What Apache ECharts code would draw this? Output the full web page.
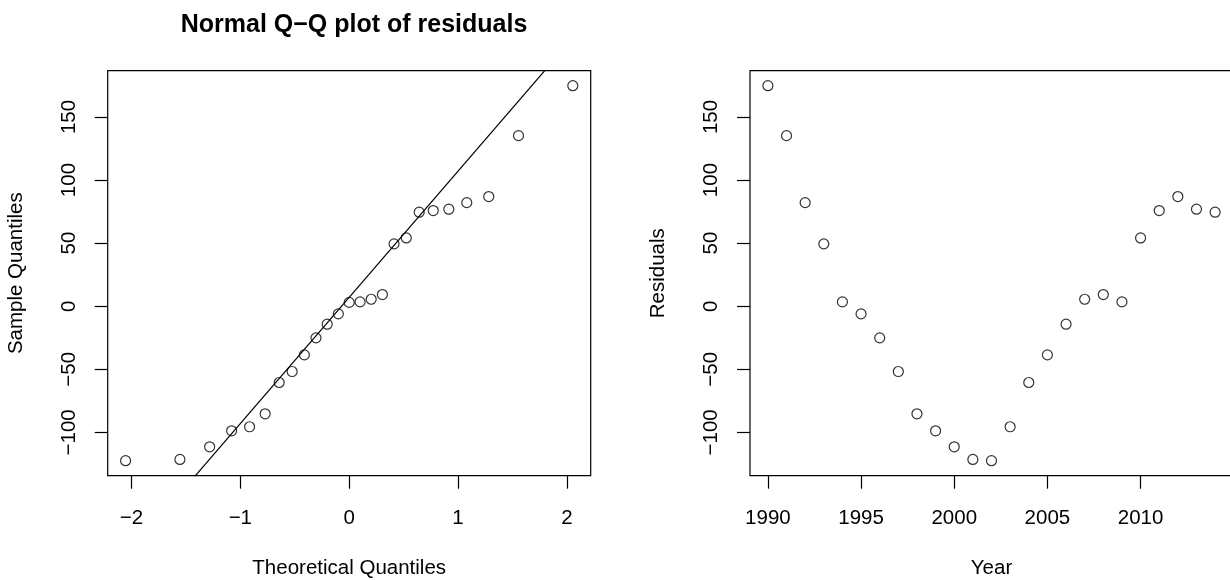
<!DOCTYPE html>
<html>
<head>
<meta charset="utf-8">
<script src="https://cdn.jsdelivr.net/npm/echarts@6/dist/echarts.min.js"></script>
<style>
  html, body { margin: 0; padding: 0; background: #fff; }
  #chart { width: 1230px; height: 580px; }
</style>
</head>
<body>
<div id="chart"></div>
<script>
// data
const years = [1990, 1991, 1992, 1993, 1994, 1995, 1996, 1997, 1998, 1999, 2000, 2001, 2002,
  2003, 2004, 2005, 2006, 2007, 2008, 2009, 2010, 2011, 2012, 2013, 2014]
const residuals = [174.8, 135.2, 82.1, 49.4, 3.4, -6.1, -25.1, -51.8, -85.3, -98.8, -111.5, -121.5, -122.5,
  -95.6, -60.5, -38.6, -14.3, 5.5, 9.2, 3.4, 54.1, 75.8, 86.9, 76.9, 74.5]
// normal quantiles for n = 25 and the sorted residuals
const theoQuantiles = [-2.054, -1.555, -1.282, -1.080, -0.915, -0.772, -0.643, -0.524, -0.412, -0.305, -0.202, -0.100, 0,
  0.100, 0.202, 0.305, 0.412, 0.524, 0.643, 0.772, 0.915, 1.080, 1.282, 1.555, 2.054]
const sampleQuantiles = [-122.5, -121.5, -111.5, -98.8, -95.6, -85.3, -60.5, -51.8, -38.6, -25.1, -14.3, -6.1, 3.0,
  3.4, 5.5, 9.2, 49.4, 54.1, 74.5, 75.8, 76.9, 82.1, 86.9, 135.2, 174.8]
// reference line (through the quartiles)
const qqIntercept = 7.0
const qqSlope = 100.07

const qqTicksX = [-2, -1, 0, 1, 2]
const yearTicks = [1990, 1995, 2000, 2005, 2010]
const residTicks = [-100, -50, 0, 50, 100, 150]

// R style axis range: data range plus 4% each side
function rRange(arr) {
  const mn = Math.min(...arr), mx = Math.max(...arr)
  const pad = (mx - mn) * 0.04
  return [mn - pad, mx + pad]
}

const font = 'Liberation Sans, Arial, sans-serif'
const fs = 20.5
const minus = v => String(v).replace('-', '\u2212')

const qx = rRange(theoQuantiles)
const yx = rRange(years)
const ry = rRange(residuals)

function xAxisOf(gridIndex, range, ticks, name) {
  return {
    type: 'value',
    gridIndex: gridIndex,
    min: range[0],
    max: range[1],
    name: name,
    nameLocation: 'middle',
    nameGap: 82,
    nameTextStyle: { color: '#000', fontSize: fs, fontFamily: font },
    axisLine: { show: false, onZero: false },
    splitLine: { show: false },
    axisTick: {
      show: true,
      length: 13,
      customValues: ticks,
      lineStyle: { color: '#000', width: 1.2 }
    },
    axisLabel: {
      customValues: ticks,
      margin: 32,
      color: '#000',
      fontSize: fs,
      fontFamily: font,
      formatter: minus
    }
  }
}

function yAxisOf(gridIndex, name) {
  return {
    type: 'value',
    gridIndex: gridIndex,
    min: ry[0],
    max: ry[1],
    name: name,
    nameLocation: 'middle',
    nameGap: 81,
    nameRotate: 90,
    nameTextStyle: { color: '#000', fontSize: fs, fontFamily: font },
    axisLine: { show: false, onZero: false },
    splitLine: { show: false },
    axisTick: {
      show: true,
      length: 13,
      customValues: residTicks,
      lineStyle: { color: '#000', width: 1.2 }
    },
    axisLabel: {
      customValues: residTicks,
      rotate: 90,
      margin: 28,
      color: '#000',
      fontSize: fs,
      fontFamily: font,
      formatter: minus
    }
  }
}

const pointStyle = {
  color: 'rgba(0,0,0,0)',
  borderColor: '#000',
  borderWidth: 1.2
}

const chart = echarts.init(document.getElementById('chart'), null, { renderer: 'canvas' })
chart.setOption({
  animation: false,
  backgroundColor: '#fff',
  title: {
    text: 'Normal Q\u2212Q plot of residuals',
    left: 349,
    top: 8,
    textAlign: 'center',
    textStyle: { color: '#000', fontSize: 25, fontWeight: 'bold', fontFamily: font }
  },
  grid: [
    { left: 107.7, top: 70.7, width: 483, height: 405, outerBoundsMode: 'none',
      show: true, borderColor: '#000', borderWidth: 1.2 },
    { left: 750, top: 70.7, width: 483, height: 405, outerBoundsMode: 'none',
      show: true, borderColor: '#000', borderWidth: 1.2 }
  ],
  xAxis: [
    xAxisOf(0, qx, qqTicksX, 'Theoretical Quantiles'),
    xAxisOf(1, yx, yearTicks, 'Year')
  ],
  yAxis: [
    yAxisOf(0, 'Sample Quantiles'),
    yAxisOf(1, 'Residuals')
  ],
  series: [
    {
      type: 'line',
      xAxisIndex: 0,
      yAxisIndex: 0,
      clip: true,
      symbol: 'none',
      lineStyle: { color: '#000', width: 1.2 },
      data: [qx[0], qx[1]].map(x => [x, qqIntercept + qqSlope * x])
    },
    {
      type: 'scatter',
      xAxisIndex: 0,
      yAxisIndex: 0,
      symbol: 'circle',
      symbolSize: 10,
      itemStyle: pointStyle,
      data: theoQuantiles.map((x, i) => [x, sampleQuantiles[i]])
    },
    {
      type: 'scatter',
      xAxisIndex: 1,
      yAxisIndex: 1,
      symbol: 'circle',
      symbolSize: 10,
      itemStyle: pointStyle,
      data: years.map((x, i) => [x, residuals[i]])
    }
  ]
})
</script>
</body>
</html>
